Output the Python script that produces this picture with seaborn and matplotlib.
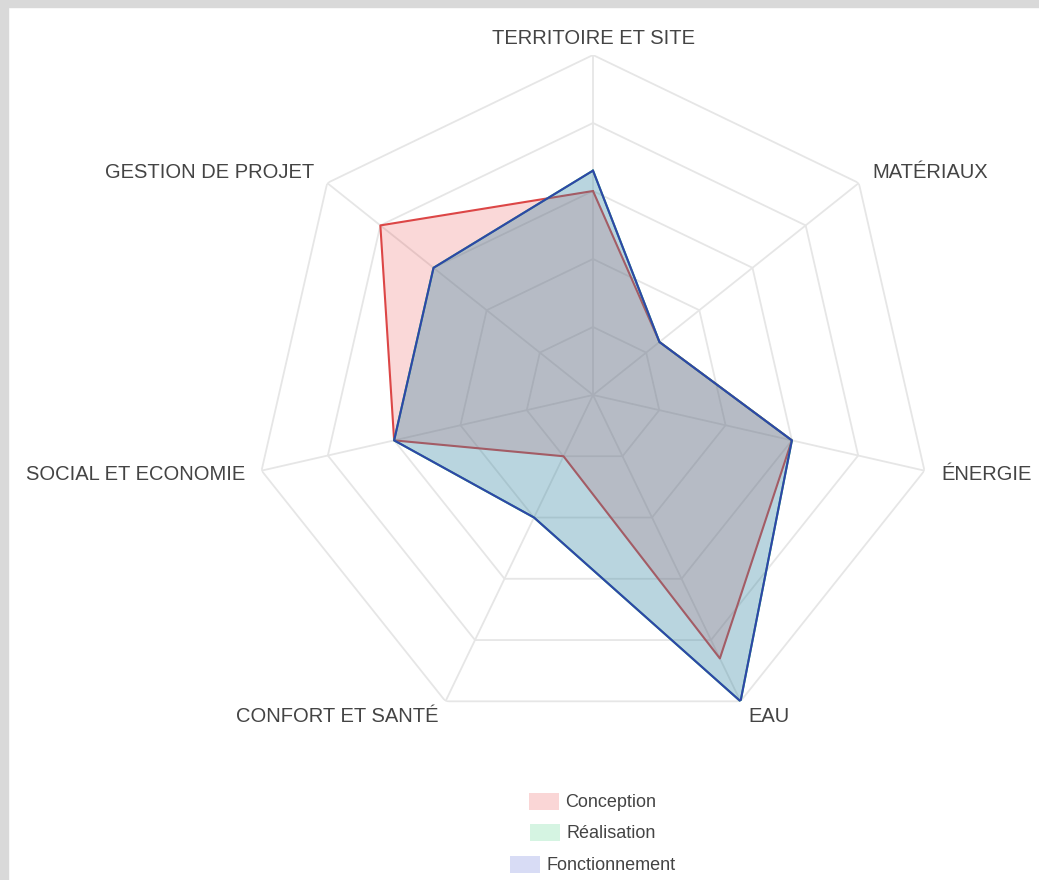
"""
Radar chart - building quality assessment per phase
"""

import numpy as np
import matplotlib
matplotlib.use("Agg")
import matplotlib.pyplot as plt
import seaborn as sns
from matplotlib.patches import Patch

sns.set_theme(style="white")
plt.rcParams['font.family'] = ['Liberation Sans', 'DejaVu Sans']

# data
categories = ["TERRITOIRE ET SITE", "MATÉRIAUX", "ÉNERGIE", "EAU",
              "CONFORT ET SANTÉ", "SOCIAL ET ECONOMIE", "GESTION DE PROJET"]
conception = [60, 25, 60, 86, 20, 60, 80]
realisation = [66, 25, 60, 100, 40, 60, 60]
fonctionnement = [66, 25, 60, 100, 40, 60, 60]
series_names = ["Conception", "Réalisation", "Fonctionnement"]
grid_levels = [20, 40, 60, 80, 100]

line_colors = ["#dc4646", "#2ecc71", "#2f45a8"]
fill_colors = ["#e63232", "#2ecc71", "#3c50cd"]

fig = plt.figure(figsize=(10.39, 8.8), dpi=100)
fig.patch.set_facecolor("white")
# grey frame on top and left, like the screenshot
fig.add_artist(plt.Rectangle((0, 1 - 7 / 880), 1, 7 / 880, transform=fig.transFigure,
                             color="#d9d9d9", zorder=0))
fig.add_artist(plt.Rectangle((0, 0), 8 / 1039, 1, transform=fig.transFigure,
                             color="#d9d9d9", zorder=0))

ax = fig.add_axes([0.2435, 0.1648, 0.6545, 0.7727], projection="polar")
ax.set_theta_offset(np.pi / 2)
ax.set_theta_direction(-1)
ax.set_ylim(0, 100)
ax.grid(False)
ax.spines['polar'].set_visible(False)
ax.set_xticks([])
ax.set_yticks([])
ax.set_facecolor("none")

n = len(categories)
angles = np.linspace(0, 2 * np.pi, n, endpoint=False)
closed = np.append(angles, angles[0])

# heptagon grid
for lvl in grid_levels:
    ax.plot(closed, [lvl] * (n + 1), color="#e6e6e6", lw=1.3, zorder=1)
for a in angles:
    ax.plot([a, a], [0, 100], color="#e6e6e6", lw=1.3, zorder=1)

# series (later fills cover earlier lines)
for vals, lc, fc in zip([conception, realisation, fonctionnement], line_colors, fill_colors):
    v = np.append(vals, vals[0])
    ax.fill(closed, v, color=fc, alpha=0.19, lw=0, zorder=2)
    ax.plot(closed, v, color=lc, lw=1.5, zorder=2)

# axis labels
for a, lab in zip(angles, categories):
    s = np.sin(a)
    if abs(s) < 0.01:
        ha = "center"
    elif s > 0:
        ha = "left"
    else:
        ha = "right"
    ax.text(a, 105, lab, ha=ha, va="center", fontsize=14.5, color="#444444",
            clip_on=False)

# legend: one centered row per series
ys = [1 - 802 / 880, 1 - 833 / 880, 1 - 865 / 880]
for name, fc, y in zip(series_names, fill_colors, ys):
    h = Patch(facecolor=fc, alpha=0.2, edgecolor="none")
    fig.legend([h], [name], loc="center", bbox_to_anchor=(593 / 1039, y),
               frameon=False, fontsize=13, handlelength=1.65, handleheight=1.1,
               handletextpad=0.35, borderpad=0, labelcolor="#444444")

fig.savefig("out.png", dpi=100)
